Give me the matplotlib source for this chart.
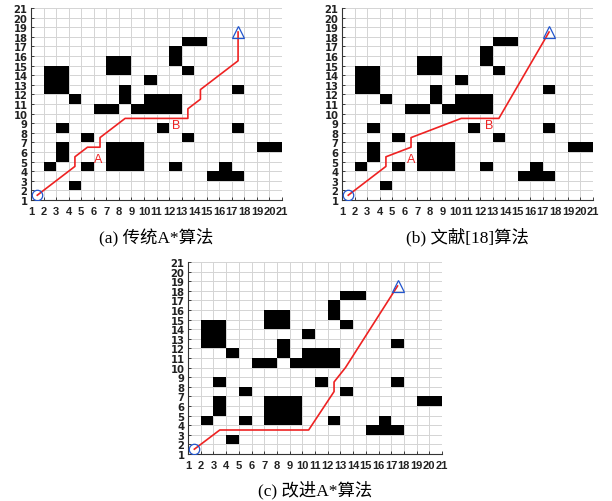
import numpy as np
import matplotlib
matplotlib.use("Agg")
import matplotlib.pyplot as plt
from matplotlib.colors import ListedColormap

# ---- data ----
# obstacle cells (lower-left corner of each occupied cell)
obs_x = [2, 3, 2, 3, 2, 3, 4, 6, 7, 7, 8, 7, 8, 8, 8,
         9, 10, 11, 12, 10, 11, 12, 10, 12, 12, 13, 14, 13, 17, 17, 19, 20,
         3, 5, 3, 3, 2, 5, 7, 8, 9, 7, 8, 9, 7, 8, 9, 11, 13, 12, 15, 16, 17, 16, 4]
obs_y = [12, 12, 13, 13, 14, 14, 11, 10, 10, 14, 14, 15, 15, 11, 12,
         10, 10, 10, 10, 11, 11, 11, 13, 15, 16, 17, 17, 14, 12, 8, 6, 6,
         8, 7, 5, 6, 4, 4, 4, 4, 4, 5, 5, 5, 6, 6, 6, 8, 7, 4, 3, 3, 3, 4, 2]

start = (1.5, 1.5)
goal = (17.5, 18.5)

path_a_x = [1.5, 4.5, 4.5, 5.5, 6.5, 6.5, 8.5, 13.5, 13.5, 14.5, 14.5, 17.5, 17.5]
path_a_y = [1.5, 4.5, 5.5, 6.5, 6.5, 7.5, 9.5, 9.5, 10.5, 11.5, 12.5, 15.5, 18.5]

path_b_x = [1.5, 4.5, 4.5, 6.5, 6.5, 10.5, 13.5, 17.5]
path_b_y = [1.5, 4.5, 5.5, 6.5, 7.5, 9.5, 9.5, 18.5]

path_c_x = [1.5, 3.5, 10.5, 12.5, 12.5, 13.4, 17.5]
path_c_y = [1.5, 3.5, 3.5, 7.5, 8.5, 10.0, 18.5]

titles = ["(a) 传统A*算法", "(b) 文献[18]算法", "(c) 改进A*算法"]
tick_vals = list(range(1, 22))

# labels A / B (positions in data coords)
lab_a = [("A", 6.35, 5.3), ("B", 12.6, 8.85)]
lab_b = [("A", 6.5, 5.3), ("B", 12.7, 8.85)]

# ---- figure ----
W, H = 612, 502
fig = plt.figure(figsize=(W / 100, H / 100), dpi=100)


def rect(l, r, t, b):
    return [l / W, 1 - b / H, (r - l) / W, (b - t) / H]


occ = np.zeros((20, 20))
for x, y in zip(obs_x, obs_y):
    occ[y - 1, x - 1] = 1
occ = np.ma.masked_equal(occ, 0)
edges = np.arange(1, 22)

xtick_font = dict(family="Liberation Sans", weight="bold", size=8)
ytick_font = dict(family="DejaVu Sans", weight="bold", size=8, stretch="condensed")
title_fam = ["Liberation Serif", "Noto Sans CJK SC"]


def draw(ax, px, py, labels, title, ty_px):
    ax.set_axisbelow(True)
    ax.pcolormesh(edges, edges, occ, cmap=ListedColormap(["black"]), vmin=0, vmax=1)
    ax.plot(px, py, color="#ee2222", lw=1.2, zorder=3)
    ax.plot([start[0]], [start[1]], marker="o", ms=7.5, mfc="none", mec="#2255cc", mew=0.9, zorder=4)
    ax.plot([goal[0]], [goal[1]], marker="^", ms=9, mfc="none", mec="#2255cc", mew=0.9, zorder=4)
    for t, x, y in labels:
        ax.text(x, y, t, color="#ee2222", fontsize=9, ha="center", va="center",
                family="Liberation Sans", zorder=5)
    ax.set_xlim(1, 21)
    ax.set_ylim(1, 21)
    ax.set_xticks(tick_vals)
    ax.set_yticks(tick_vals)
    ax.set_xticklabels([str(v) for v in tick_vals], fontdict=xtick_font)
    ax.set_yticklabels([str(v) for v in tick_vals], fontdict=ytick_font)
    ax.tick_params(direction="in", length=2, width=0.6, colors="#222222")
    ax.tick_params(axis="x", pad=4.5)
    ax.tick_params(axis="y", pad=2.5)
    ax.grid(True, color="#d4d4d4", lw=0.7)
    for s in ["top", "right"]:
        ax.spines[s].set_visible(False)
    for s in ["left", "bottom"]:
        ax.spines[s].set_color("#333333")
        ax.spines[s].set_linewidth(0.8)
    bb = ax.get_position()
    fig.text(bb.x0 + bb.width / 2, 1 - ty_px / H, title, ha="center", va="center",
             fontsize=12.5, family=title_fam)


ax1 = fig.add_axes(rect(31, 282, 9, 201))
draw(ax1, path_a_x, path_a_y, lab_a, titles[0], 237)
ax2 = fig.add_axes(rect(342, 593, 9, 201))
draw(ax2, path_b_x, path_b_y, lab_b, titles[1], 237)
ax3 = fig.add_axes(rect(188, 442, 263, 455))
draw(ax3, path_c_x, path_c_y, [], titles[2], 490)

fig.savefig("out.png", dpi=100, facecolor="white")
